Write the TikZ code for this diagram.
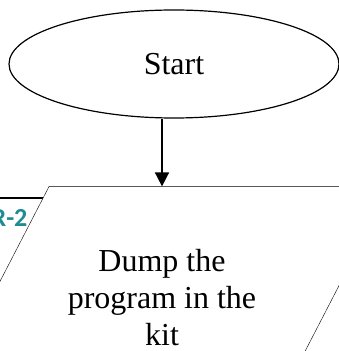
\documentclass[tikz,border=0pt]{standalone}
\usepackage{fontspec}
\setmainfont{Liberation Serif}
\newfontfamily\hdrfont{Carlito}
\usetikzlibrary{shapes.geometric, arrows.meta, backgrounds}
\definecolor{hdrteal}{RGB}{30,140,147}
\tikzset{every picture/.style={line width=1.2pt}}

\begin{document}
\begin{tikzpicture}[x=1pt,y=1pt,
        term/.style={ellipse, draw, minimum width=330pt, minimum height=108pt, font=\fontsize{32}{37}\selectfont},
        io/.style={rectangle, minimum width=340pt, minimum height=222pt,
            align=center, font=\fontsize{32}{37}\selectfont},
        iobox/.style={draw, fill=white},
        hdrtxt/.style={inner sep=0pt, text=hdrteal, font=\hdrfont\bfseries\fontsize{26}{30}\selectfont},
        flow/.style={line width=1.6pt, -{Triangle[length=14pt,width=14pt]}}]
        \useasboundingbox (0,0) rectangle (339,351);
        \clip (0,0) rectangle (339,351);
        \node[hdrtxt, anchor=base east] (hdrlbl) at (28,124) {R-2};
        \node[term] (start) at (174,287) {Start};
        \node[io] (dump) at (162,53) {Dump the\\program in the\\kit};
        \begin{scope}[on background layer]
            % box behind, only its top edge shows
            \draw[line width=1.8pt] (-100,153) rectangle (80,-100);
            % slanted input/output box
            \draw[iobox] ([xshift=57.7pt]dump.north west) -- ([xshift=57.7pt]dump.north east)
                -- ([xshift=-57.7pt]dump.south east) -- ([xshift=-57.7pt]dump.south west) -- cycle;
        \end{scope}
        \draw[flow] (start.south -| dump.north) -- (dump.north);
    \end{tikzpicture}
\end{document}
